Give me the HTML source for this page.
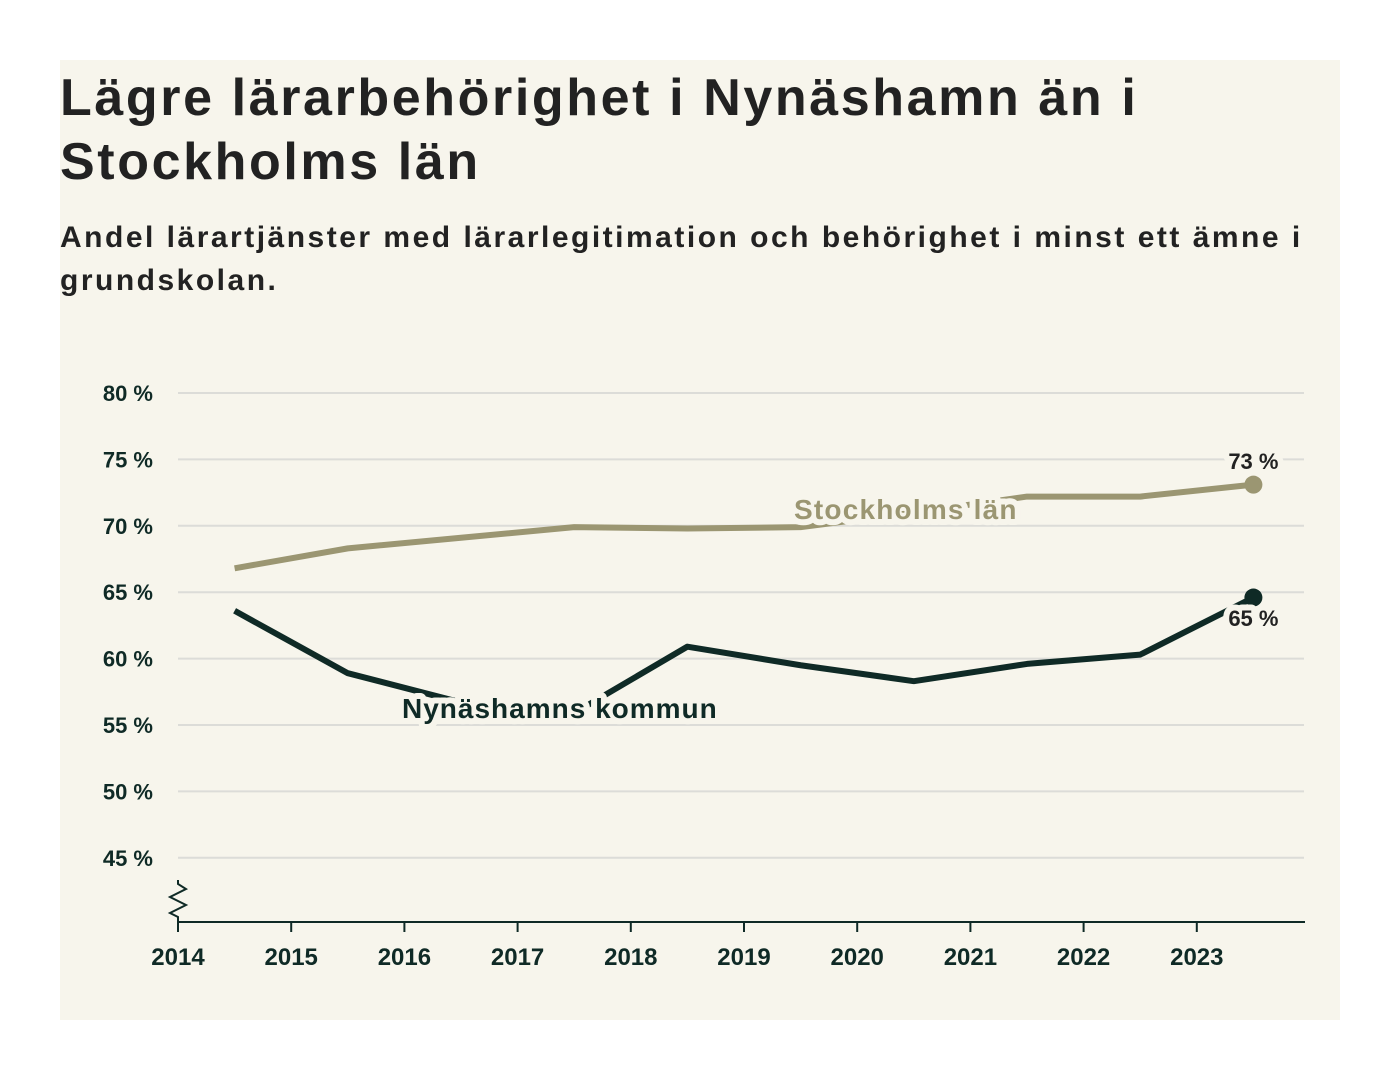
<!DOCTYPE html>
<html><head><meta charset="utf-8"><style>
body{margin:0;background:#fff;width:1400px;height:1080px;overflow:hidden;font-family:"Liberation Sans","DejaVu Sans",sans-serif}
#panel{position:absolute;left:60px;top:60px;width:1280px;height:960px;background:#f7f5ec}
h1{position:absolute;left:0;top:6px;margin:0;font-size:52px;line-height:64px;font-weight:bold;color:#222;letter-spacing:2.6px;width:1240px}
h2{position:absolute;left:0;top:156px;margin:0;font-size:30px;line-height:43px;font-weight:bold;color:#222;letter-spacing:2.5px;width:1275px}
svg{position:absolute;left:0;top:0}
</style></head><body>
<div id="panel">
<h1>Lägre lärarbehörighet i Nynäshamn än i Stockholms län</h1>
<h2>Andel lärartjänster med lärarlegitimation och behörighet i minst ett ämne i grundskolan.</h2>
</div>
<svg id="chart" width="1400" height="1080"></svg>
<script>
const years=[2014.5,2015.5,2016.5,2017.5,2018.5,2019.5,2020.5,2021.5,2022.5,2023.5];
const stockholm=[66.8,68.3,69.1,69.9,69.8,69.9,71.0,72.2,72.2,73.1];
const nynashamn=[63.6,58.9,56.7,55.9,60.9,59.5,58.3,59.6,60.3,64.6];
const yTicks=[45,50,55,60,65,70,75,80];
const xTicks=[2014,2015,2016,2017,2018,2019,2020,2021,2022,2023];
const NS='http://www.w3.org/2000/svg';
const svg=document.getElementById('chart');
const x=v=>178+(v-2014)*113.2;
const y=v=>393+(80-v)*13.28;
function mk(t,a,txt){const e=document.createElementNS(NS,t);for(const k in a)e.setAttribute(k,a[k]);if(txt!=null)e.textContent=txt;svg.appendChild(e);return e;}
yTicks.forEach(v=>{
 const g=mk('line',{x1:178,x2:1304,y1:y(v),y2:y(v),stroke:'#dcdcd8','stroke-width':2});
 
 
 const t=mk('text',{x:153,y:y(v)+8,'text-anchor':'end','font-size':22,'font-weight':'bold',fill:'#0f2a26'},v+' %');
 
 
});
const ax=mk('line',{x1:178,x2:1305,y1:922,y2:922,stroke:'#0f2a26','stroke-width':2});


const br=mk('polyline',{points:'178,880 178,884 186,889 170,897 186,905 170,913 178,917 178,922',fill:'none',stroke:'#0f2a26','stroke-width':2});


xTicks.forEach(v=>{
 const l=mk('line',{x1:x(v),x2:x(v),y1:922,y2:932,stroke:'#0f2a26','stroke-width':2});
 
 
 const t=mk('text',{x:x(v),y:965,'text-anchor':'middle','font-size':24,'font-weight':'bold',fill:'#0f2a26'},v);
 
 
});
function series(vals,col,name){
 const p=mk('polyline',{points:vals.map((v,i)=>x(years[i])+','+y(v)).join(' '),fill:'none',stroke:col,'stroke-width':6,'stroke-linejoin':'round'});
 
 
 const n=vals.length-1;
 const c=mk('circle',{cx:x(years[n]),cy:y(vals[n]),r:9,fill:col});
 
 
}
series(stockholm,'#9b9672','stockholm');
series(nynashamn,'#0f2a26','nynashamn');
function lab(txt,xx,yy,col,sz,name,anchor,ls){
 const t=mk('text',{x:xx,y:yy,'font-size':sz,'font-weight':'bold',fill:col,stroke:'#f7f5ec','stroke-width':12,'stroke-linejoin':'round','paint-order':'stroke','text-anchor':anchor||'start','letter-spacing':ls||0},txt);
 
 
}
lab('Stockholms län',794,519,'#9b9672',28,'stockholm-label','start',1.2);
lab('Nynäshamns kommun',402,718,'#0f2a26',28,'nynashamn-label','start',1);
lab(Math.round(stockholm[9])+' %',x(years[9]),469,'#222',22,'stockholm-value-label','middle');
lab(Math.round(nynashamn[9])+' %',x(years[9]),626,'#222',22,'nynashamn-value-label','middle');
</script>
</body></html>
